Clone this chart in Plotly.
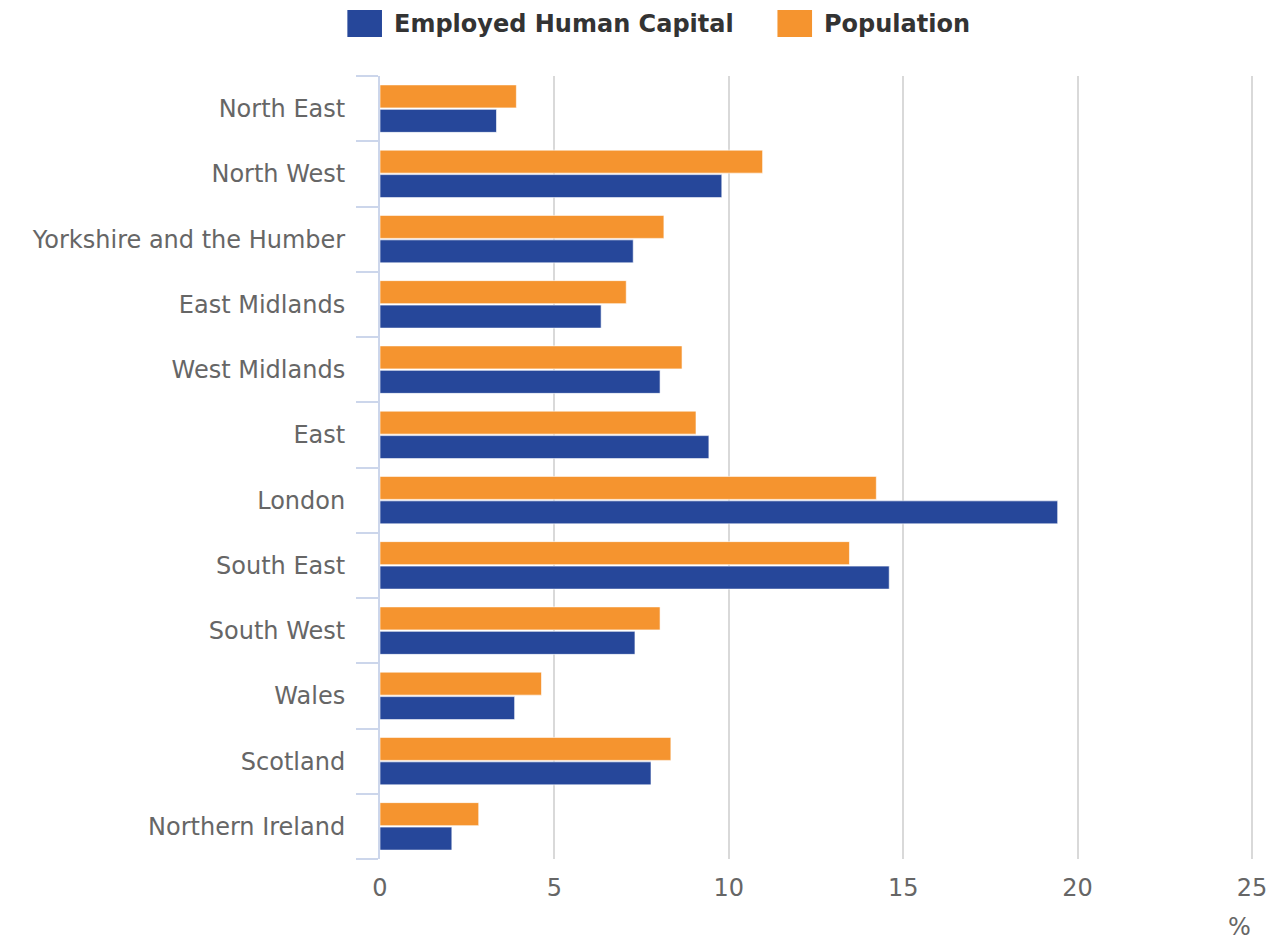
import plotly.graph_objects as go

regions = ["North East", "North West", "Yorkshire and the Humber", "East Midlands",
           "West Midlands", "East", "London", "South East", "South West", "Wales",
           "Scotland", "Northern Ireland"]
employed_human_capital = [3.34, 9.80, 7.26, 6.34, 8.03, 9.43, 19.43, 14.60, 7.31, 3.86, 7.77, 2.06]
population = [3.91, 10.97, 8.14, 7.06, 8.66, 9.06, 14.23, 13.46, 8.03, 4.63, 8.34, 2.83]
x_ticks = [0, 5, 10, 15, 20, 25]

BLUE = "#26479a"
ORANGE = "#f5942f"
FONT = "DejaVu Sans"

fig = go.Figure()
fig.add_trace(go.Bar(
    y=regions, x=employed_human_capital, orientation="h", name="Employed Human Capital",
    marker=dict(color=BLUE, line=dict(color="rgba(255,255,255,0.6)", width=1)),
))
fig.add_trace(go.Bar(
    y=regions, x=population, orientation="h", name="Population",
    marker=dict(color=ORANGE, line=dict(color="rgba(255,255,255,0.6)", width=1)),
))

R = 16
fig.update_layout(
    width=1279, height=944,
    margin=dict(l=380, r=R, t=76, b=85),
    paper_bgcolor="white", plot_bgcolor="white",
    barmode="group", bargap=0.25, bargroupgap=0.06,
    showlegend=False,
    font=dict(family=FONT, color="#666666"),
    xaxis=dict(
        range=[0, 25.03], tickvals=x_ticks, showgrid=True, gridcolor="#d9d9d9", gridwidth=2,
        zeroline=False, showline=False, ticks="", tickfont=dict(size=24, color="#666666"),
        ticklabelstandoff=12,
    ),
    yaxis=dict(
        categoryorder="array", categoryarray=regions[::-1],
        showline=True, linecolor="#ccd6eb", linewidth=2,
        ticks="outside", tickson="boundaries", ticklen=22, tickcolor="#ccd6eb", tickwidth=2,
        tickfont=dict(size=24, color="#666666"), showgrid=False, ticklabelstandoff=28,
    ),
)

W = 1279 - 380 - R

# Axis unit label
fig.add_annotation(x=1.0, y=0, xref="paper", yref="paper", xanchor="right", yanchor="middle",
                   yshift=-68, xshift=0, text="%", showarrow=False,
                   font=dict(size=24, color="#666666", family=FONT))

# Legend (drawn as swatches + text)
legend_items = [("Employed Human Capital", BLUE, 347), ("Population", ORANGE, 782)]
for label, color, x0 in legend_items:
    fig.add_shape(type="rect", xref="paper", yref="paper",
                  x0=(x0 - 380) / W, x1=(x0 + 35 - 380) / W,
                  y0=(944 - 85 - 37) / 783, y1=(944 - 85 - 10) / 783,
                  fillcolor=color, line=dict(width=0))
    fig.add_annotation(x=(x0 + 45 - 380) / W, y=(944 - 85 - 23.5) / 783, xref="paper", yref="paper",
                       xanchor="left", yanchor="middle", text="<b>" + label + "</b>", showarrow=False,
                       font=dict(size=24, color="#333333", family=FONT))

fig.write_html("out.html", config={"displayModeBar": False},
               post_script="document.body.style.margin='0';")
